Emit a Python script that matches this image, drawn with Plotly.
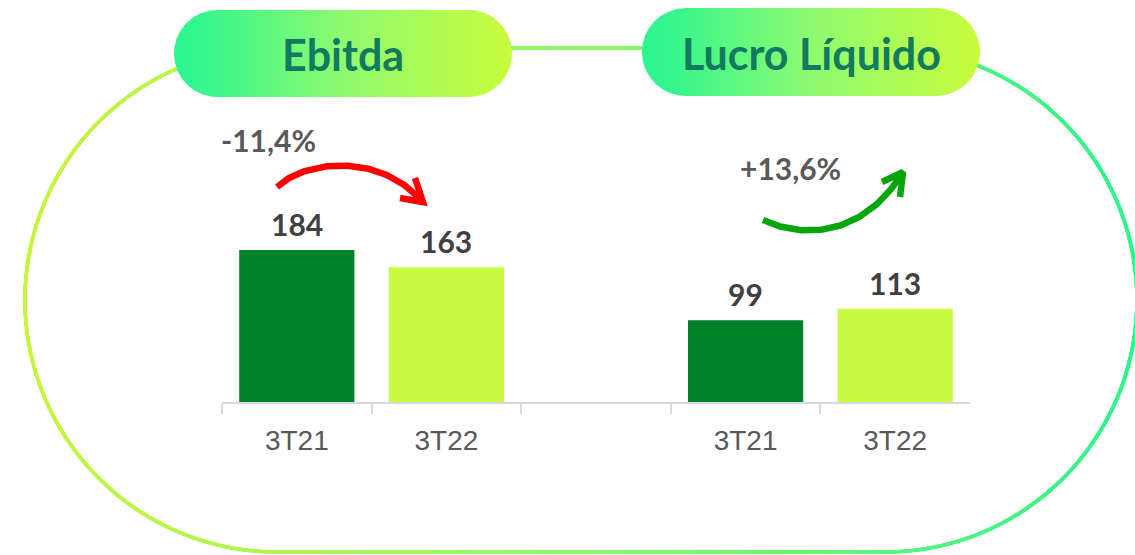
import numpy as np
import plotly.graph_objects as go

W, H = 1135, 555

# ---- data ----
categories = ["3T21", "3T22", " ", "3T21 ", "3T22 "]
tick_labels = ["3T21", "3T22", "", "3T21", "3T22"]
values = [184, 163, None, 99, 113]
value_labels = ["184", "163", "", "99", "113"]
bar_colors = ["#00822B", "#C6FB41", "#FFFFFF", "#00822B", "#C6FB41"]
group_titles = ["Ebitda", "Lucro Líquido"]
changes = ["-11,4%", "+13,6%"]

DARK_TXT = "#404040"
GRAY_TXT = "#595959"
TITLE_TXT = "#127A5E"
NUM_FONT = "Lato, DejaVu Sans, sans-serif"

fig = go.Figure()

# ---- overlay decoration helpers (pixel coords on x2/y2) ----
def stadium(x0, x1, y0, y1, n=200):
    r = (y1 - y0) / 2.0
    cy = (y0 + y1) / 2.0
    cl, cr = x0 + r, x1 - r
    a1 = np.linspace(np.pi / 2, 3 * np.pi / 2, n)
    a2 = np.linspace(-np.pi / 2, np.pi / 2, n)
    xs = np.concatenate([cl + r * np.cos(a1), cr + r * np.cos(a2)])
    ys = np.concatenate([cy - r * np.sin(a1), cy - r * np.sin(a2)])
    xs = np.append(xs, xs[0]); ys = np.append(ys, ys[0])
    return xs, ys

# big outline with horizontal gradient (dense markers)
bx0, bx1, by0, by1 = 25, 1137, 48, 552
r = (by1 - by0) / 2.0
cy = (by0 + by1) / 2.0
cl, cr = bx0 + r, bx1 - r
seg_len = cr - cl
pts_x, pts_y = [], []
n_arc = 1800
a1 = np.linspace(np.pi / 2, 3 * np.pi / 2, n_arc)
a2 = np.linspace(-np.pi / 2, np.pi / 2, n_arc)
pts_x += list(cl + r * np.cos(a1)); pts_y += list(cy - r * np.sin(a1))
lx = np.linspace(cl, cr, int(seg_len * 2))
pts_x += list(lx); pts_y += [by1] * len(lx)
pts_x += list(cr + r * np.cos(a2)); pts_y += list(cy - r * np.sin(a2))
pts_x += list(lx[::-1]); pts_y += [by0] * len(lx)

fig.add_trace(go.Scatter(
    x=pts_x, y=pts_y, xaxis="x2", yaxis="y2", mode="markers",
    marker=dict(size=3.6, color=pts_x, cmin=bx0, cmax=bx1,
                colorscale=[[0, "#C8F53E"], [0.5, "#8FF86A"], [1, "#2EF58C"]],
                line=dict(width=0)),
    hoverinfo="skip", showlegend=False))

# pills
pills = [(174, 512, 10, 97), (642, 980, 8, 96)]
for (x0, x1, y0, y1), title in zip(pills, group_titles):
    px, py = stadium(x0, x1, y0, y1)
    fig.add_trace(go.Scatter(
        x=px, y=py, xaxis="x2", yaxis="y2", mode="lines", fill="toself",
        line=dict(width=0, color="rgba(0,0,0,0)"),
        fillgradient=dict(type="horizontal",
                          colorscale=[[0, "#2CF690"], [0.1, "#38F68C"], [0.5, "#8FFA70"], [1, "#C9FC3C"]]),
        hoverinfo="skip", showlegend=False))
    fig.add_annotation(x=(x0 + x1) / 2, y=(y0 + y1) / 2 + 1, xref="x2", yref="y2",
                       text="<b>%s</b>" % title, showarrow=False,
                       font=dict(family=NUM_FONT, size=43, color=TITLE_TXT))

# curved arrows
def cubic(p0, p1, p2, p3, n=80):
    t = np.linspace(0, 1, n)[:, None]
    p0, p1, p2, p3 = map(np.array, (p0, p1, p2, p3))
    c = (1 - t) ** 3 * p0 + 3 * (1 - t) ** 2 * t * p1 + 3 * (1 - t) * t ** 2 * p2 + t ** 3 * p3
    return list(c[:, 0]), list(c[:, 1])

arrows = [
    dict(curve=((277, 187), (305, 160), (380, 152), (423, 202)),
         head=((415, 178), (400, 198)), color="#FF0000"),
    dict(curve=((763, 220), (805, 240), (865, 235), (903, 172)),
         head=((882, 182), (900, 197)), color="#06A50A"),
]
for a in arrows:
    cx, cyy = cubic(*a["curve"])
    tip = a["curve"][3]
    hx = [a["head"][0][0], tip[0], a["head"][1][0]]
    hy = [a["head"][0][1], tip[1], a["head"][1][1]]
    fig.add_trace(go.Scatter(x=cx + [None] + hx, y=cyy + [None] + hy,
                             xaxis="x2", yaxis="y2", mode="lines",
                             line=dict(color=a["color"], width=6.5),
                             hoverinfo="skip", showlegend=False))

# ---- bars ----
fig.add_trace(go.Bar(x=categories, y=values, marker=dict(color=bar_colors, line=dict(width=0)),
                     width=0.77, showlegend=False, hoverinfo="skip", cliponaxis=False))

for c, v, t in zip(categories, values, value_labels):
    if v is None:
        continue
    fig.add_annotation(x=c, y=v, xref="x", yref="y", text="<b>%s</b>" % t,
                       showarrow=False, yanchor="middle", yshift=26,
                       font=dict(family=NUM_FONT, size=30, color=DARK_TXT))

# change labels
change_pos = [(268, 140), (790, 168)]
for (x, y), t in zip(change_pos, changes):
    fig.add_annotation(x=x, y=y, xref="x2", yref="y2", text="<b>%s</b>" % t,
                       showarrow=False, font=dict(family=NUM_FONT, size=30, color=GRAY_TXT))

ppx = 0.826  # px per unit
y_base = 402
y_top = 100
fig.update_layout(
    width=W, height=H, margin=dict(l=0, r=0, t=0, b=0),
    paper_bgcolor="white", plot_bgcolor="rgba(0,0,0,0)",
    xaxis=dict(domain=[222 / W, 970 / W], type="category", range=[-0.5, 4.5],
               tickvals=categories, ticktext=tick_labels, tickson="boundaries",
               ticks="outside", ticklen=10, tickwidth=2, tickcolor="#D9D9D9",
               showline=True, linecolor="#D9D9D9", linewidth=2, showgrid=False,
               zeroline=False, anchor="y", ticklabelstandoff=12,
               tickfont=dict(family="Liberation Sans Narrow, Liberation Sans, sans-serif",
                             size=28, color=GRAY_TXT)),
    yaxis=dict(domain=[1 - y_base / H, 1 - y_top / H], range=[0, (y_base - y_top) / ppx],
               visible=False, anchor="x"),
    xaxis2=dict(domain=[0, 1], range=[0, W], visible=False, anchor="y2", fixedrange=True),
    yaxis2=dict(domain=[0, 1], range=[H, 0], visible=False, anchor="x2", fixedrange=True),
)

fig.write_html("out.html", config={"displayModeBar": False},
               post_script="document.body.style.margin='0px';document.body.style.overflow='hidden';")
